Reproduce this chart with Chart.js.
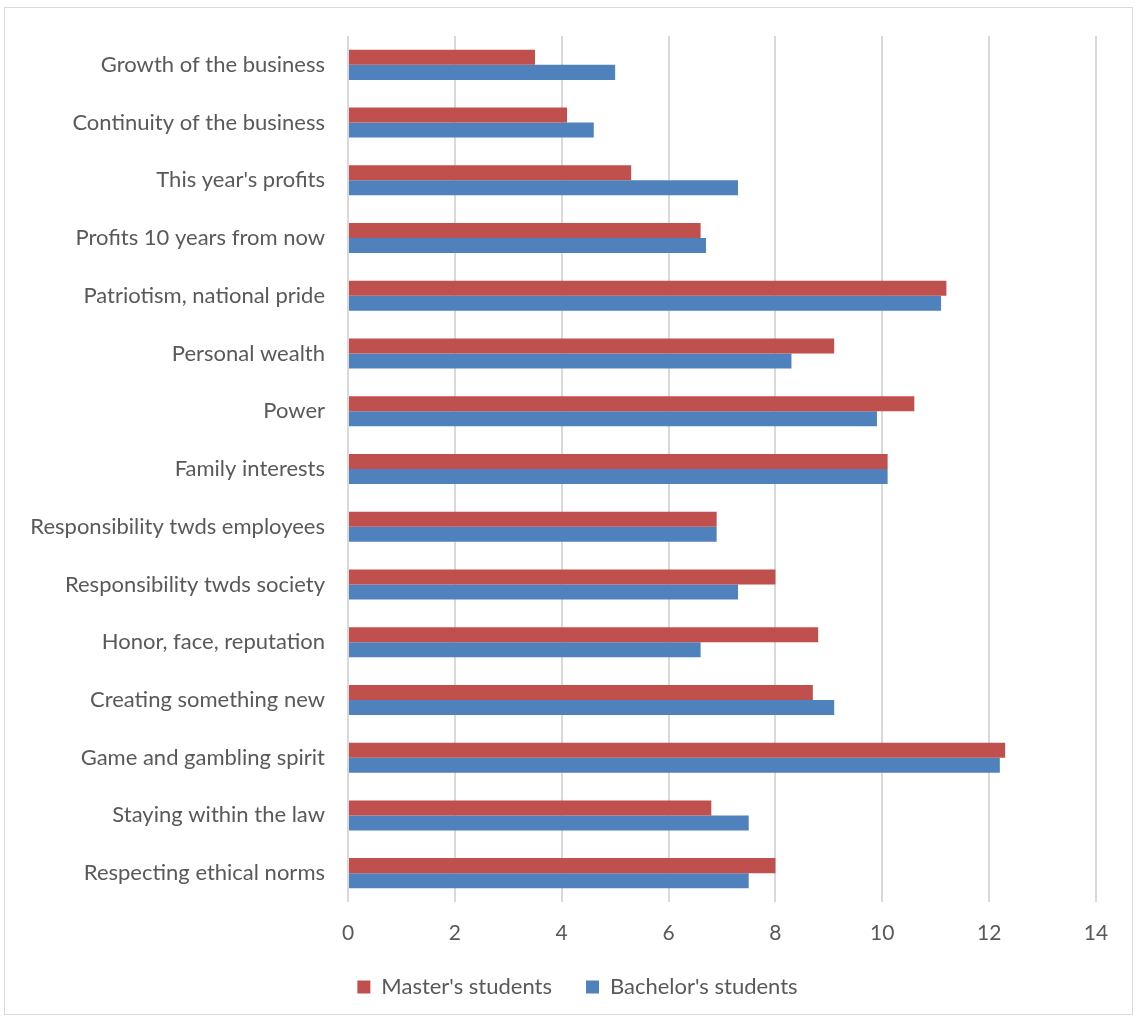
<!DOCTYPE html>
<html>
<head>
<meta charset="utf-8">
<script src="https://cdn.jsdelivr.net/npm/chart.js@4/dist/chart.umd.min.js"></script>
<style>
  html, body { margin: 0; padding: 0; background: #ffffff; }
  #frame {
    position: absolute; left: 4px; top: 7px;
    width: 1127px; height: 1006px;
    border: 1px solid #d9d9d9;
    background: #ffffff;
  }
  #chart { display: block; }
</style>
</head>
<body>
<div id="frame"><canvas id="chart" width="1127" height="1006"></canvas></div>
<script>
// Motives ranked by students (average rank)
const categories = [
  "Growth of the business",
  "Continuity of the business",
  "This year's profits",
  "Profits 10 years from now",
  "Patriotism, national pride",
  "Personal wealth",
  "Power",
  "Family interests",
  "Responsibility twds employees",
  "Responsibility twds society",
  "Honor, face, reputation",
  "Creating something new",
  "Game and gambling spirit",
  "Staying within the law",
  "Respecting ethical norms"
];
const masters   = [3.5, 4.1, 5.3, 6.6, 11.2, 9.1, 10.6, 10.1, 6.9, 8.0, 8.8, 8.7, 12.3, 6.8, 8.0];
const bachelors = [5.0, 4.6, 7.3, 6.7, 11.1, 8.3, 9.9, 10.1, 6.9, 7.3, 6.6, 9.1, 12.2, 7.5, 7.5];
const xTicks = [0, 2, 4, 6, 8, 10, 12, 14];

const FONT = "Lato, 'Open Sans', 'Liberation Sans', sans-serif";
const TEXT = "#595959";

// nudge the legend row a little to the right of centre
const legendShift = {
  id: "legendShift",
  afterLayout(chart) {
    const lg = chart.legend;
    if (lg) { lg.left += 27; lg.right += 27; }
  }
};

new Chart(document.getElementById("chart"), {
  type: "bar",
  data: {
    labels: categories,
    datasets: [
      { label: "Master's students", data: masters, backgroundColor: "#C0504D" },
      { label: "Bachelor's students", data: bachelors, backgroundColor: "#4F81BD" }
    ]
  },
  options: {
    indexAxis: "y",
    responsive: false,
    animation: false,
    layout: { padding: { top: 28, right: 36, left: 0, bottom: 6 } },
    datasets: { bar: { categoryPercentage: 0.52, barPercentage: 1.0 } },
    scales: {
      x: {
        min: 0, max: 14,
        afterBuildTicks: s => { s.ticks = xTicks.map(v => ({ value: v })); },
        grid: { color: "#d9d9d9", lineWidth: 2, drawTicks: false },
        border: { display: false },
        ticks: { color: TEXT, font: { family: FONT, size: 21 }, padding: 19 },
        afterFit: s => { s.height = 40; }
      },
      y: {
        grid: { display: false, drawTicks: true, tickLength: 15 },
        border: { display: false },
        ticks: { color: TEXT, font: { family: FONT, size: 22 }, padding: 8 },
        afterFit: s => { s.width = 343; }
      }
    },
    plugins: {
      legend: {
        position: "bottom",
        labels: {
          color: TEXT,
          font: { family: FONT, size: 22 },
          boxWidth: 13, boxHeight: 13,
          padding: 34
        }
      },
      tooltip: { enabled: false }
    }
  },
  plugins: [legendShift]
});
</script>
</body>
</html>
